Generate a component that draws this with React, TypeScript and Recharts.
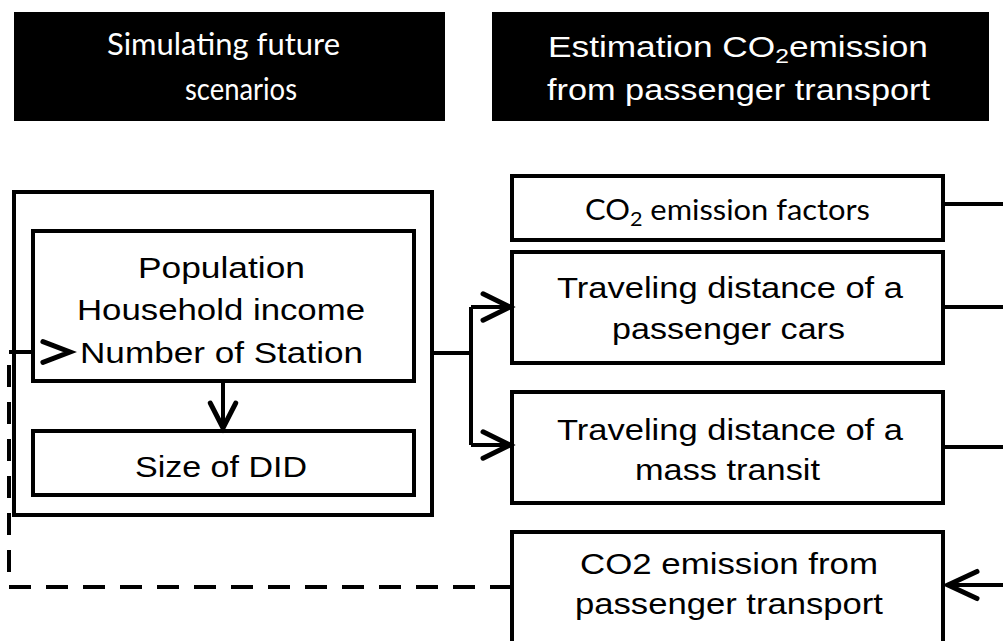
import { ComposedChart, XAxis, YAxis, ReferenceArea, Line, Scatter } from "recharts";

const W = 1003;
const H = 641;

// diagram geometry, in pixel-like data units (y grows downward)
const headers = [
  { x1: 14, x2: 445, y1: 12, y2: 121 },
  { x1: 492, x2: 989, y1: 12, y2: 121 },
];

const boxes = [
  { x1: 14, x2: 432, y1: 192, y2: 515 }, // outer frame
  { x1: 33, x2: 414, y1: 231, y2: 381 }, // population / income / station
  { x1: 33, x2: 414, y1: 431, y2: 495 }, // size of DID
  { x1: 512, x2: 943, y1: 176, y2: 240 }, // emission factors
  { x1: 512, x2: 943, y1: 252, y2: 363 }, // passenger cars
  { x1: 512, x2: 943, y1: 392, y2: 503 }, // mass transit
  { x1: 512, x2: 943, y1: 532, y2: 650 }, // CO2 emission
];

const connectors = [
  [{ x: 943, y: 204 }, { x: 1003, y: 204 }],
  [{ x: 943, y: 307 }, { x: 1003, y: 307 }],
  [{ x: 943, y: 447 }, { x: 1003, y: 447 }],
  [{ x: 1003, y: 585 }, { x: 950, y: 585 }],
  [{ x: 432, y: 353 }, { x: 471, y: 353 }],
  [{ x: 471, y: 307 }, { x: 471, y: 445 }],
  [{ x: 471, y: 307 }, { x: 508, y: 307 }],
  [{ x: 471, y: 445 }, { x: 508, y: 445 }],
  [{ x: 223, y: 381 }, { x: 223, y: 426 }],
  [{ x: 9, y: 352 }, { x: 33, y: 352 }],
];

const feedback = [
  { x: 512, y: 587 },
  { x: 9, y: 587 },
  { x: 9, y: 356 },
];

const arrows = [
  { x: 510, y: 307, dir: "right", len: 30, ang: 26 },
  { x: 510, y: 445, dir: "right", len: 30, ang: 26 },
  { x: 223, y: 428, dir: "down", len: 28, ang: 27 },
  { x: 948, y: 585, dir: "left", len: 32, ang: 25 },
  { x: 70, y: 352, dir: "right", len: 29, ang: 21 },
];

const headerLeftText = [
  { x: 107, y: 55, w: 233, text: "Simulating future" },
  { x: 185, y: 100, w: 112, text: "scenarios" },
];

const headerRightText = [
  { x: 548, y: 57, w: 380, text: "Estimation CO₂emission" },
  { x: 547, y: 100, w: 383, text: "from passenger transport" },
];

const boxText = [
  { x: 138, y: 278, w: 167, text: "Population" },
  { x: 77, y: 320, w: 288, text: "Household income" },
  { x: 80, y: 363, w: 283, text: "Number of Station" },
  { x: 135, y: 477, w: 172, text: "Size of DID" },
  { x: 557, y: 298, w: 346, text: "Traveling distance of a" },
  { x: 612, y: 339, w: 233, text: "passenger cars" },
  { x: 557, y: 440, w: 346, text: "Traveling distance of a" },
  { x: 635, y: 480, w: 185, text: "mass transit" },
  { x: 580, y: 574, w: 298, text: "CO2 emission from" },
  { x: 575, y: 614, w: 308, text: "passenger transport" },
];

const factorText = [{ x: 585, y: 220, w: 285, text: "CO₂ emission factors" }];

const DIRS: Record<string, [number, number]> = { right: [1, 0], left: [-1, 0], down: [0, 1] };

function chevron(a: { x: number; y: number; dir: string; len: number; ang: number }) {
  const [dx, dy] = DIRS[a.dir];
  const t = (a.ang * Math.PI) / 180;
  const wing = (s: number) => {
    const rx = dx * Math.cos(s * t) - dy * Math.sin(s * t);
    const ry = dx * Math.sin(s * t) + dy * Math.cos(s * t);
    return { x: a.x - a.len * rx, y: a.y - a.len * ry };
  };
  return [wing(1), { x: a.x, y: a.y }, wing(-1)];
}

const textShape = (font: string, size: number, color: string) => (props: any) => {
  const { cx, cy, payload } = props;
  const parts = String(payload.text).split("₂");
  return (
    <text
      x={cx}
      y={cy}
      fontFamily={font}
      fontSize={size}
      fill={color}
      textLength={payload.w}
      lengthAdjust="spacingAndGlyphs"
    >
      {parts[0]}
      {parts.length > 1 && (
        <>
          <tspan fontSize={size * 0.7} dy={size * 0.22}>2</tspan>
          <tspan dy={-size * 0.22}>{parts[1]}</tspan>
        </>
      )}
    </text>
  );
};

const ARIAL = "'Liberation Sans', Arial, sans-serif";
const CALIBRI = "Lato, 'Open Sans', sans-serif";

export default function App() {
  return (
    <div style={{ position: "absolute", left: 0, top: 0, background: "#fff" }}>
      <ComposedChart width={W} height={H} margin={{ top: 0, right: 0, bottom: 0, left: 0 }}>
        <XAxis type="number" dataKey="x" domain={[0, W]} hide />
        <YAxis type="number" dataKey="y" domain={[0, H]} reversed hide />

        {headers.map((b, i) => (
          <ReferenceArea key={"h" + i} {...b} fill="#000" fillOpacity={1} stroke="none" ifOverflow="visible" />
        ))}
        {boxes.map((b, i) => (
          <ReferenceArea
            key={"b" + i}
            {...b}
            fill="none"
            stroke="#000"
            strokeWidth={4}
            ifOverflow="visible"
          />
        ))}

        {connectors.map((c, i) => (
          <Line
            key={"c" + i}
            data={c}
            dataKey="y"
            stroke="#000"
            strokeWidth={4}
            dot={false}
            activeDot={false}
            isAnimationActive={false}
            legendType="none"
          />
        ))}
        <Line
          data={feedback}
          dataKey="y"
          stroke="#000"
          strokeWidth={4}
          strokeDasharray="22 15"
          dot={false}
          activeDot={false}
          isAnimationActive={false}
          legendType="none"
        />
        {arrows.map((a, i) => (
          <Line
            key={"a" + i}
            data={chevron(a)}
            dataKey="y"
            stroke="#000"
            strokeWidth={5}
            strokeLinecap="round"
            strokeLinejoin="miter"
            dot={false}
            activeDot={false}
            isAnimationActive={false}
            legendType="none"
          />
        ))}

        <Scatter data={headerLeftText} shape={textShape(CALIBRI, 31, "#fff")} isAnimationActive={false} />
        <Scatter data={headerRightText} shape={textShape(ARIAL, 29, "#fff")} isAnimationActive={false} />
        <Scatter data={boxText} shape={textShape(ARIAL, 29, "#000")} isAnimationActive={false} />
        <Scatter data={factorText} shape={textShape(CALIBRI, 28, "#000")} isAnimationActive={false} />
      </ComposedChart>
    </div>
  );
}
